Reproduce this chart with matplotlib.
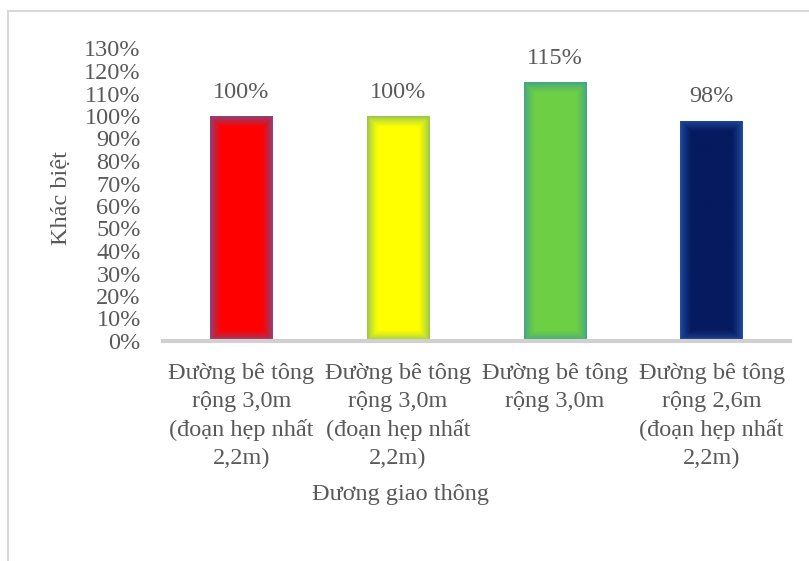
import numpy as np
import matplotlib
matplotlib.use("Agg")
import matplotlib.pyplot as plt
from matplotlib.colors import to_rgb
from matplotlib.patches import Rectangle

plt.rcParams["font.family"] = ["Liberation Serif", "DejaVu Serif"]

categories = [
    "Đường bê tông\nrộng 3,0m\n(đoạn hẹp nhất\n2,2m)",
    "Đường bê tông\nrộng 3,0m\n(đoạn hẹp nhất\n2,2m)",
    "Đường bê tông\nrộng 3,0m",
    "Đường bê tông\nrộng 2,6m\n(đoạn hẹp nhất\n2,2m)",
]
values = [1.00, 1.00, 1.15, 0.98]
value_labels = ["100%", "100%", "115%", "98%"]
y_ticks = np.arange(0, 1.31, 0.1)
y_tick_labels = [f"{round(t * 100)}%" for t in y_ticks]

# inner colour / glow colour at the edges of each bar
center_colors = ["#ff0000", "#ffff00", "#6dd044", "#061a60"]
edge_colors = ["#7a4e8c", "#8cc05a", "#3fa08a", "#2454a8"]

TEXT = "#595959"
FS = 17.5
W, H = 809, 561

fig = plt.figure(figsize=(W / 100, H / 100), dpi=100)
fig.patch.set_facecolor("white")

# chart frame
fig.patches.append(Rectangle((8 / W, -0.1), 1.2, 1 - 11 / H + 0.1, transform=fig.transFigure,
                             fill=False, edgecolor="#d9d9d9", linewidth=1.5))

ax = fig.add_axes([163 / W, 1 - 341 / H, (790 - 163) / W, (341 - 48.5) / H])
x = np.arange(len(values))
bars = ax.bar(x, values, width=0.40, color=center_colors, zorder=2)

ax.set_xlim(-0.5, 3.5)
ax.set_ylim(0, 1.3)

# soft glow: blend from the edge colour to the centre colour near the bar border
renderer = fig.canvas.get_renderer()
for bar, c_in, c_out in zip(bars, center_colors, edge_colors):
    bx, by = bar.get_x(), bar.get_y()
    bw, bh = bar.get_width(), bar.get_height()
    bb = bar.get_window_extent(renderer=renderer)
    nx, ny = max(int(bb.width), 2), max(int(bb.height), 2)
    xx = np.arange(nx) + 0.5
    yy = np.arange(ny) + 0.5
    dx = np.minimum(xx, nx - xx)[None, :]
    dy = np.minimum(yy, ny - yy)[:, None]
    d = np.minimum(dx, dy)
    t = np.clip(d / 11.0, 0, 1) ** 0.7
    ci, co = np.array(to_rgb(c_in)), np.array(to_rgb(c_out))
    img = co[None, None, :] * (1 - t[..., None]) + ci[None, None, :] * t[..., None]
    im = ax.imshow(img, extent=(bx, bx + bw, by, by + bh), origin="lower",
                   aspect="auto", interpolation="bilinear", zorder=3)
    im.set_clip_path(bar)

for xi, v, lab in zip(x, values, value_labels):
    ax.annotate(lab, (xi, v), xytext=(0, 13), textcoords="offset points",
                ha="center", va="baseline", fontsize=FS, color=TEXT)

for s in ["top", "right", "left"]:
    ax.spines[s].set_visible(False)
ax.spines["bottom"].set_color("#d0d0d0")
ax.spines["bottom"].set_linewidth(3)
ax.spines["bottom"].set_zorder(4)

ax.set_yticks(y_ticks)
ax.set_yticklabels(y_tick_labels)
ax.set_xticks(x)
ax.set_xticklabels(categories, linespacing=1.43)
ax.tick_params(axis="y", length=0, pad=16, labelsize=FS, labelcolor=TEXT)
ax.tick_params(axis="x", length=0, pad=16, labelsize=FS, labelcolor=TEXT)

ax.set_ylabel("Khác biệt", fontsize=FS, color=TEXT)
ax.yaxis.set_label_coords((72 - 163) / (790 - 163), 0.49)
ax.set_xlabel("Đương giao thông", fontsize=FS, color=TEXT)
ax.xaxis.set_label_coords((401 - 163) / (790 - 163), -143 / 292.5)

fig.savefig("out.png", dpi=100, facecolor="white")
